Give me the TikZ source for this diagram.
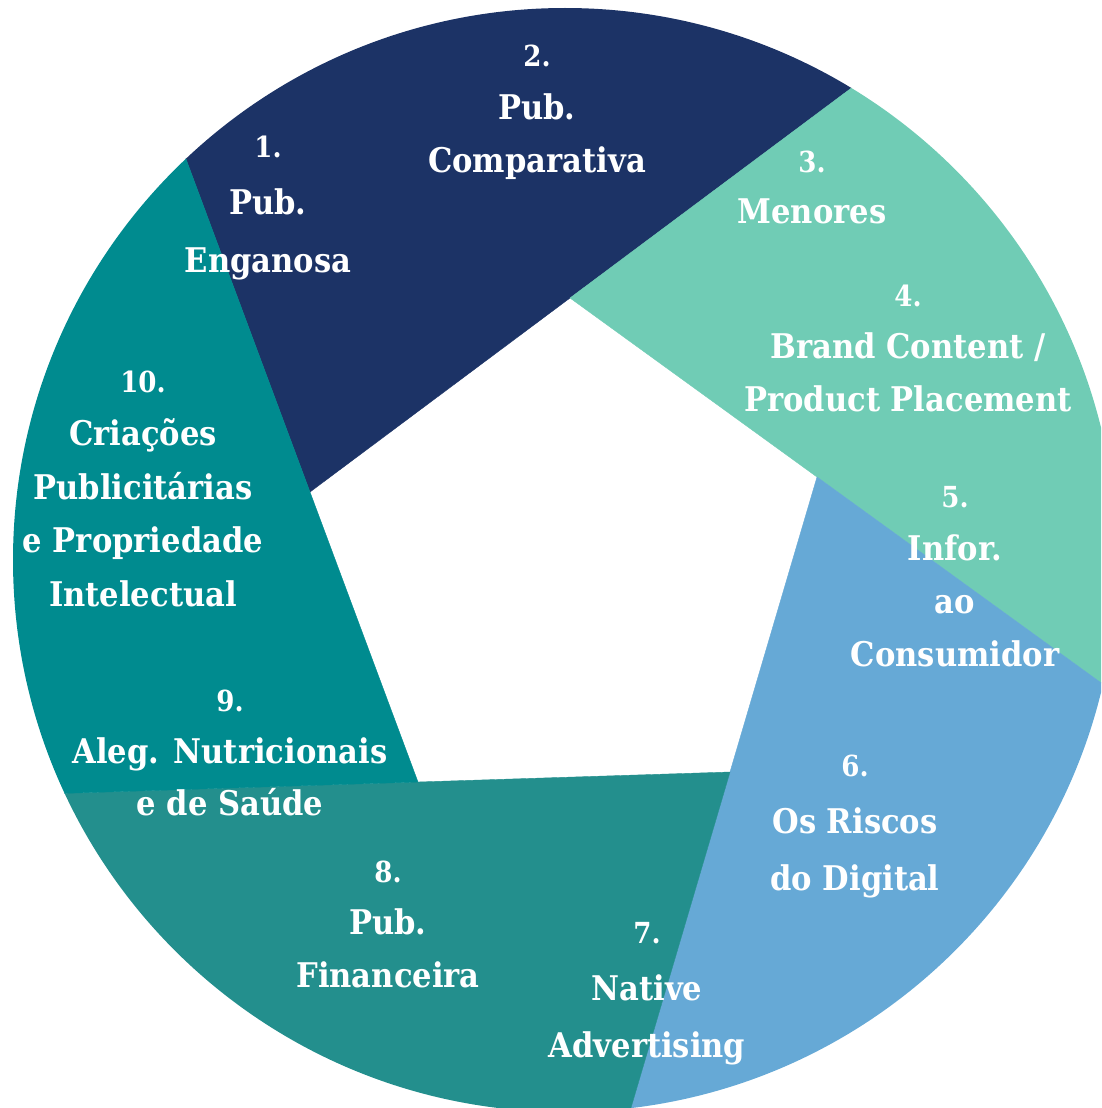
\documentclass[tikz,border=0pt]{standalone}
\usepackage{fontspec}
\usetikzlibrary{calc}
\newfontfamily\lblfont{DejaVu Serif}[FakeStretch=0.9]
\definecolor{cnavy}{RGB}{28,51,102}
\definecolor{cmint}{RGB}{112,204,181}
\definecolor{cblue}{RGB}{102,169,214}
\definecolor{cteala}{RGB}{35,143,141}
\definecolor{ctealb}{RGB}{0,139,143}
\newcommand{\num}[1]{{\fontsize{29}{53}\selectfont #1}}
\tikzset{
  lbl/.style={font=\lblfont\bfseries\fontsize{34}{#1}\selectfont, align=center,
    text=white, anchor=base, inner sep=0pt},
  blade/.style={fill=#1, draw=#1, line width=0.4pt}
}
\begin{document}
\begin{tikzpicture}[x=1pt,y=-1pt]
\useasboundingbox (0,0) rectangle (1101,1108);
\coordinate (V1) at (570,298);
\coordinate (V2) at (817,477);
\coordinate (V3) at (730,772);
\coordinate (V4) at (418,782);
\coordinate (V5) at (310,492);
\coordinate (F1) at ($(V1)!-3!(V5)$);
\coordinate (F2) at ($(V2)!-3!(V1)$);
\coordinate (F3) at ($(V3)!-3!(V2)$);
\coordinate (F4) at ($(V4)!-3!(V3)$);
\coordinate (F5) at ($(V5)!-3!(V4)$);
\begin{scope}
  \clip (0,0) rectangle (1101,1108);
  \clip (565,560) circle [radius=552pt];
  \path[blade=cnavy] (V5) -- (V1) -- (F1) -- (F5) -- cycle;
  \path[blade=cmint] (V1) -- (V2) -- (F2) -- (F1) -- cycle;
  \path[blade=cblue] (V2) -- (V3) -- (F3) -- (F2) -- cycle;
  \path[blade=cteala] (V3) -- (V4) -- (F4) -- (F3) -- cycle;
  \path[blade=ctealb] (V4) -- (V5) -- (F5) -- (F4) -- cycle;
\end{scope}
\node[lbl=57.5] (l1) at (268,272) {\num{1.}\\Pub.\\Enganosa};
\node[lbl=53] (l2) at (537,172) {\num{2.}\\Pub.\\Comparativa};
\node[lbl=51] (l3) at (812,223) {\num{3.}\\Menores};
\node[lbl=52.5] (l4) at (908,411) {\num{4.}\\Brand Content /\\Product Placement};
\node[lbl=53] (l5) at (955,666) {\num{5.}\\Infor.\\ao\\Consumidor};
\node[lbl=57] (l6) at (855,890) {\num{6.}\\Os Riscos\\do Digital};
\node[lbl=57] (l7) at (647,1057) {\num{7.}\\Native\\Advertising};
\node[lbl=52.5] (l8) at (388,987) {\num{8.}\\Pub.\\Financeira};
\node[lbl=52] (l9) at (230,815) {\num{9.}\\Aleg. Nutricionais\\e de Saúde};
\node[lbl=53.5] (l10) at (143,606) {\num{10.}\\Criações\\Publicitárias\\e Propriedade\\Intelectual};
\end{tikzpicture}
\end{document}
